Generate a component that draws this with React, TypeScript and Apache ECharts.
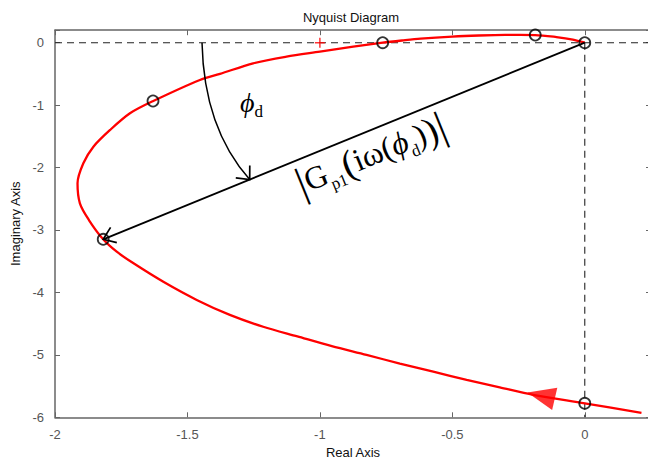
import React, { useEffect, useRef } from 'react';
import * as echarts from 'echarts';

// Nyquist curve (real / imaginary parts)
const curveRe = [0, -0.045, -0.107, -0.187, -0.3, -0.4, -0.5, -0.62, -0.69, -0.763, -0.874, -1.0, -1.126, -1.252, -1.377, -1.453, -1.629, -1.717, -1.792, -1.855, -1.893, -1.915, -1.906, -1.872, -1.818, -1.767, -1.705, -1.591, -1.465, -1.34, -1.214, -1.085, -0.955, -0.824, -0.698, -0.572, -0.446, -0.321, -0.195, 0, 0.214];
const curveIm = [0, 0.05, 0.09, 0.122, 0.124, 0.115, 0.098, 0.065, 0.035, 0.0, -0.064, -0.144, -0.224, -0.33, -0.5, -0.597, -0.934, -1.131, -1.398, -1.666, -1.932, -2.252, -2.573, -2.84, -3.149, -3.348, -3.53, -3.83, -4.12, -4.36, -4.55, -4.705, -4.86, -5.0, -5.14, -5.27, -5.4, -5.52, -5.64, -5.776, -5.93];

// open circle markers
const markerRe = [0, -0.187, -0.763, -1.63, -1.818, 0];
const markerIm = [0, 0.123, 0, -0.934, -3.149, -5.776];

// critical point (+) and direction arrow
const criticalPoint = [-1, 0];
const arrowPoint = [-0.165, -5.655];

// annotation anchors (data units)
const vectorTip = [-1.818, -3.149];
const arcStart = [-1.445, 0];
const arcCtrl = [-1.438, -1.366];
const arcEnd = [-1.265, -2.191];
const phiPos = [-1.302, -0.966];
const magPos = [-0.808, -1.79];

const xTicks = [-2, -1.5, -1, -0.5, 0];
const yTicks = [0, -1, -2, -3, -4, -5, -6];

export default function App() {
  const ref = useRef<HTMLDivElement>(null);
  useEffect(() => {
    const chart = echarts.init(ref.current!, null, { renderer: 'svg' });
    const axisColor = '#666';
    const labelColor = '#555';
    const sans = "'Liberation Sans', Arial, sans-serif";
    const serif = "'Liberation Serif', 'DejaVu Serif', 'Times New Roman', serif";
    const xMin = -2, xMax = 0.25, yMin = -6, yMax = 0.2;
    const fmt = (ticks: number[]) => (v: number) =>
      ticks.some((t) => Math.abs(t - v) < 1e-9) ? String(Math.abs(v) < 1e-9 ? 0 : v) : '';

    const baseAxis = {
      axisLine: { show: true, onZero: false, lineStyle: { color: axisColor, width: 1.5 } },
      axisTick: { show: true, inside: true, length: 5, lineStyle: { color: axisColor, width: 1 } },
      splitLine: { show: false },
    };

    const option: any = {
      animation: false,
      backgroundColor: '#fff',
      grid: { left: 55, right: -3, top: 30.2, bottom: 41.7, containLabel: false, outerBoundsMode: 'none' },
      xAxis: [
        {
          type: 'value', min: xMin, max: xMax, interval: 0.5, position: 'bottom',
          ...baseAxis,
          axisLabel: { color: labelColor, fontSize: 13, fontFamily: sans, margin: 11, formatter: fmt(xTicks) },
          name: 'Real Axis', nameLocation: 'middle', nameGap: 28,
          nameTextStyle: { color: '#111', fontSize: 13, fontFamily: sans },
        },
        {
          type: 'value', min: xMin, max: xMax, interval: 0.5, position: 'top',
          ...baseAxis, axisLabel: { show: false },
        },
      ],
      yAxis: [
        {
          type: 'value', min: yMin, max: yMax, interval: 1, position: 'left',
          ...baseAxis,
          axisLabel: { color: labelColor, fontSize: 13, fontFamily: sans, margin: 11, formatter: fmt(yTicks) },
          name: 'Imaginary Axis', nameLocation: 'middle', nameGap: 33,
          nameTextStyle: { color: '#111', fontSize: 13, fontFamily: sans },
        },
        {
          type: 'value', min: yMin, max: yMax, interval: 1, position: 'right',
          ...baseAxis, axisLabel: { show: false },
        },
      ],
      series: [
        {
          type: 'line', data: [[xMin, 0], [xMax, 0]], symbol: 'none', z: 1,
          lineStyle: { color: '#222', width: 1.1, type: [7, 5] }, silent: true,
        },
        {
          type: 'line', data: [[0, 0], [0, yMin]], symbol: 'none', z: 1,
          lineStyle: { color: '#222', width: 1.1, type: [7, 5] }, silent: true,
        },
        {
          type: 'line', data: curveRe.map((x, i) => [x, curveIm[i]]), symbol: 'none', smooth: 0.3, z: 3,
          lineStyle: { color: '#ff0000', width: 2.3 },
        },
        {
          type: 'scatter', data: markerRe.map((x, i) => [x, markerIm[i]]), symbol: 'circle', symbolSize: 11, z: 6,
          itemStyle: { color: 'rgba(0,0,0,0)', borderColor: '#000', borderWidth: 1.8 },
        },
        {
          type: 'scatter', data: [criticalPoint], symbol: 'path://M0,5L10,5M5,0L5,10', symbolSize: 10, z: 5,
          itemStyle: { color: 'none', borderColor: '#ff0000', borderWidth: 1.5 },
        },
        {
          type: 'scatter', data: [arrowPoint], symbol: 'triangle', symbolSize: [23, 28], symbolRotate: 77, z: 5,
          itemStyle: { color: '#ff0000' },
        },
      ],
    };
    chart.setOption(option);

    const p = (d: number[]) => chart.convertToPixel({ xAxisIndex: 0, yAxisIndex: 0 }, d) as number[];
    const head = (tip: number[], from: number[], len: number, ang: number) => {
      const dx = from[0] - tip[0], dy = from[1] - tip[1];
      const L = Math.hypot(dx, dy);
      const ux = dx / L, uy = dy / L;
      const rot = (a: number) => [
        tip[0] + len * (ux * Math.cos(a) - uy * Math.sin(a)),
        tip[1] + len * (ux * Math.sin(a) + uy * Math.cos(a)),
      ];
      return {
        type: 'polyline', z: 10,
        shape: { points: [rot(ang), tip, rot(-ang)] },
        style: { stroke: '#000', lineWidth: 1.7, fill: null },
      };
    };

    const o = p([0, 0]);
    const t = p(vectorTip);
    const a0 = p(arcStart), ac = p(arcCtrl), a1 = p(arcEnd);
    const ph = p(phiPos), mg = p(magPos);
    const gridLeft = p([xMin, 0])[0], gridRight = p([xMax, 0])[0];
    const rotation = Math.atan2(t[1] - o[1], o[0] - t[0]);

    chart.setOption({
      graphic: [
        {
          type: 'text', x: (gridLeft + gridRight) / 2 - 2, y: 17, z: 10,
          style: { text: 'Nyquist Diagram', fill: '#111', fontSize: 13, fontFamily: sans, textAlign: 'center', textVerticalAlign: 'middle' },
        },
        {
          type: 'line', z: 10,
          shape: { x1: o[0], y1: o[1], x2: t[0], y2: t[1] },
          style: { stroke: '#000', lineWidth: 1.8 },
        },
        head(t, o, 14, (36 * Math.PI) / 180),
        {
          type: 'bezierCurve', z: 10,
          shape: { x1: a0[0], y1: a0[1], cpx1: ac[0], cpy1: ac[1], x2: a1[0], y2: a1[1] },
          style: { stroke: '#000', lineWidth: 1.5, fill: null },
        },
        head(a1, ac, 14, (42 * Math.PI) / 180),
        {
          type: 'text', x: ph[0], y: ph[1], z: 10,
          style: {
            text: '{p|ϕ}{d|d}',
            textAlign: 'left', textVerticalAlign: 'middle',
            rich: {
              p: { fontSize: 28, fontStyle: 'italic', fontFamily: serif, fill: '#000', lineHeight: 34 },
              d: { fontSize: 17, fontFamily: serif, fill: '#000', lineHeight: 14, verticalAlign: 'bottom' },
            },
          },
        },
        {
          type: 'text', x: mg[0], y: mg[1], rotation, z: 10,
          style: {
            text: '{b||}{g|G}{s|p1}{P|(}{g|iω}{q|(}{f|ϕ}{s|d}{q|)}{P|)}{b||}',
            textAlign: 'center', textVerticalAlign: 'middle',
            rich: {
              b: { fontSize: 42, fontFamily: serif, fill: '#000', lineHeight: 44 },
              g: { fontSize: 32, fontFamily: serif, fill: '#000', lineHeight: 44 },
              s: { fontSize: 17, fontFamily: serif, fill: '#000', lineHeight: 19, verticalAlign: 'bottom' },
              P: { fontSize: 38, fontFamily: serif, fill: '#000', lineHeight: 44 },
              q: { fontSize: 32, fontFamily: serif, fill: '#000', lineHeight: 44 },
              f: { fontSize: 32, fontStyle: 'italic', fontFamily: serif, fill: '#000', lineHeight: 44 },
            },
          },
        },
      ],
    });

    return () => chart.dispose();
  }, []);
  return <div ref={ref} style={{ position: 'fixed', left: 0, top: 0, width: 648, height: 459 }} />;
}
